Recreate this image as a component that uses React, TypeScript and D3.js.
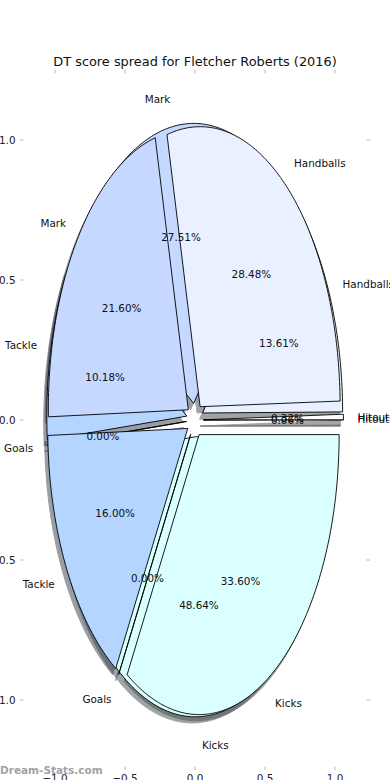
import React from "react";
import * as d3 from "d3";

const categories = ["Hitouts", "Handballs", "Mark", "Tackle", "Goals", "Kicks"];
const backShares = [0.06, 13.61, 27.51, 10.18, 0.0, 48.64];
const frontShares = [0.32, 28.48, 21.6, 16.0, 0.0, 33.6];
const sliceColors = ["#ffffff", "#e9f0ff", "#c5d8ff", "#b3d5ff", "#a6c8ff", "#d9ffff"];
const xTicks = [-1, -0.5, 0, 0.5, 1];
const yTicks = [1, 0.5, 0, -0.5, -1];
const title = "DT score spread for Fletcher Roberts (2016)";
const watermark = "Dream-Stats.com";

const EXPLODE = 0.06;
const LABEL_DIST = 1.1;
const PCT_DIST = 0.6;
const SHADOW_OFF = -0.022;
const FONT = "DejaVu Sans";

const W = 390;
const H = 780;
const x = d3.scaleLinear().domain([-1.25, 1.25]).range([20, 370]);
const y = d3.scaleLinear().domain([-1.25, 1.25]).range([770, 70]);

const line = d3
  .line<[number, number]>()
  .x((d) => x(d[0]))
  .y((d) => y(d[1]));

function wedgePath(a0: number, a1: number, ox: number, oy: number) {
  const n = Math.max(2, Math.ceil(((a1 - a0) * 180) / Math.PI));
  const pts: [number, number][] = [[ox, oy]];
  for (let i = 0; i <= n; i++) {
    const t = a0 + ((a1 - a0) * i) / n;
    pts.push([ox + Math.cos(t), oy + Math.sin(t)]);
  }
  return line(pts) + "Z";
}

function buildPie(shares: number[]) {
  const total = d3.sum(shares);
  const frac = total > 100 ? 1 : total / 100;
  const arcs = d3
    .pie<number>()
    .sort(null)
    .value((d) => d)
    .startAngle(0)
    .endAngle(2 * Math.PI * frac)(shares);
  return arcs.map((a, i) => {
    const mid = (a.startAngle + a.endAngle) / 2;
    const ox = EXPLODE * Math.cos(mid);
    const oy = EXPLODE * Math.sin(mid);
    const lx = ox + LABEL_DIST * Math.cos(mid);
    const ly = oy + LABEL_DIST * Math.sin(mid);
    const px = ox + PCT_DIST * Math.cos(mid);
    const py = oy + PCT_DIST * Math.sin(mid);
    const pct = (100 * a.value) / (total > 100 ? total : 100);
    return {
      i,
      name: categories[i],
      color: sliceColors[i],
      path: wedgePath(a.startAngle, a.endAngle, ox, oy),
      shadow: wedgePath(a.startAngle, a.endAngle, ox + SHADOW_OFF, oy + SHADOW_OFF),
      lx,
      ly,
      px,
      py,
      pctText: d3.format(".2f")(pct) + "%",
    };
  });
}

function shadowColor(c: string) {
  const rgb = d3.rgb(c);
  return d3.rgb(rgb.r * 0.3, rgb.g * 0.3, rgb.b * 0.3).formatHex();
}

const fmtTick = (v: number) => (v < 0 ? "\u2212" : "") + d3.format(".1f")(Math.abs(v));

export default function App() {
  const pies = [buildPie(backShares), buildPie(frontShares)];
  const tickColor = "#b8b8b8";
  return (
    <svg
      width={W}
      height={H}
      style={{ position: "absolute", left: 0, top: 0, background: "#fff" }}
      fontFamily={FONT}
    >
      <rect x={0} y={0} width={W} height={H} fill="#fff" />
      {/* ticks */}
      {yTicks.map((t) => (
        <g key={"y" + t}>
          <line x1={x(-1.25)} x2={x(-1.25) + 3.5} y1={y(t)} y2={y(t)} stroke={tickColor} />
          <line x1={x(1.25)} x2={x(1.25) - 3.5} y1={y(t)} y2={y(t)} stroke={tickColor} />
          <text x={15.5} y={y(t)} textAnchor="end" dominantBaseline="central" fontSize={10.4} fill="#222">
            {fmtTick(t)}
          </text>
        </g>
      ))}
      {xTicks.map((t) => (
        <g key={"x" + t}>
          <line x1={x(t)} x2={x(t)} y1={y(1.25)} y2={y(1.25) + 3.5} stroke={tickColor} />
          <line x1={x(t)} x2={x(t)} y1={y(-1.25)} y2={y(-1.25) - 3.5} stroke={tickColor} />
          <text x={x(t)} y={782} textAnchor="middle" fontSize={10.4} fill="#222">
            {fmtTick(t)}
          </text>
        </g>
      ))}
      {/* shadows */}
      {pies.map((p, pi) =>
        p.map((w) => (
          <path
            key={"s" + pi + w.i}
            d={w.shadow}
            fill={shadowColor(w.color)}
            stroke={shadowColor(w.color)}
            strokeWidth={1}
            opacity={0.5}
          />
        ))
      )}
      {/* wedges */}
      {pies.map((p, pi) =>
        p.map((w) => (
          <path
            key={"w" + pi + w.i}
            d={w.path}
            fill={w.color}
            stroke="#000"
            strokeWidth={0.9}
            strokeLinejoin="miter"
          />
        ))
      )}
      {/* texts */}
      {pies.map((p, pi) =>
        p.map((w) => (
          <g key={"t" + pi + w.i}>
            <text
              x={x(w.lx)}
              y={y(w.ly)}
              textAnchor={w.lx > 0 ? "start" : "end"}
              dominantBaseline="central"
              fontSize={10.4}
              fill="#111"
            >
              {w.name}
            </text>
            <text
              x={x(w.px)}
              y={y(w.py)}
              textAnchor="middle"
              dominantBaseline="central"
              fontSize={10.4}
              fill="#111"
            >
              {w.pctText}
            </text>
          </g>
        ))
      )}
      <text x={W / 2} y={61} textAnchor="middle" dominantBaseline="central" fontSize={12.9} fill="#111">
        {title}
      </text>
      <text x={0} y={774} fontSize={10.5} fontWeight="bold" fill="#a3a3a3">
        {watermark}
      </text>
    </svg>
  );
}
